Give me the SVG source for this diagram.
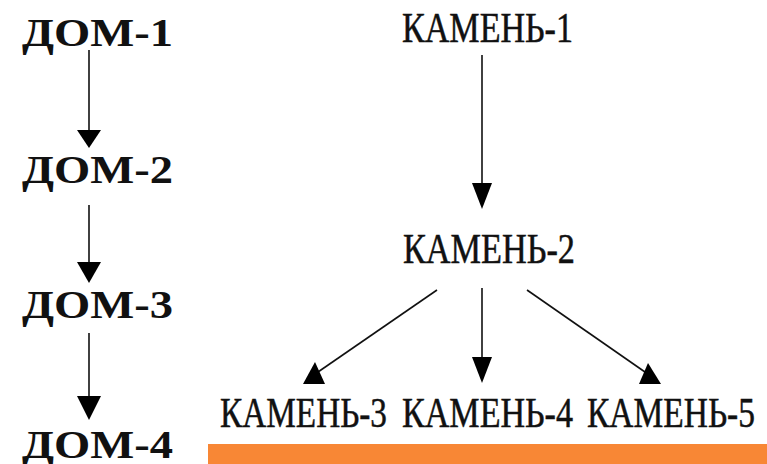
<svg xmlns="http://www.w3.org/2000/svg" width="767" height="464" viewBox="0 0 767 464">
<style>
.dom{font-family:"Liberation Serif","Times New Roman",serif;font-size:40px;font-weight:bold;fill:#111}
.kam{font-family:"Liberation Serif","Times New Roman",serif;font-size:42px;fill:#111;stroke:#111;stroke-width:0.5}
.ln{stroke:#111;stroke-width:1.6;fill:none}
.hd{fill:#000}
</style>
<rect width="767" height="464" fill="#fff"/>
<g id="dom1"><text class="dom" x="22" y="46" textLength="151" lengthAdjust="spacingAndGlyphs">ДОМ-1</text></g>
<g id="dom2"><text class="dom" x="22" y="183" textLength="151" lengthAdjust="spacingAndGlyphs">ДОМ-2</text></g>
<g id="dom3"><text class="dom" x="22" y="318" textLength="151" lengthAdjust="spacingAndGlyphs">ДОМ-3</text></g>
<g id="dom4"><text class="dom" x="22" y="458" textLength="151" lengthAdjust="spacingAndGlyphs">ДОМ-4</text></g>
<g id="kamen1"><text class="kam" x="402" y="42" textLength="171" lengthAdjust="spacingAndGlyphs">КАМЕНЬ-1</text></g>
<g id="kamen2"><text class="kam" x="403" y="263" textLength="172" lengthAdjust="spacingAndGlyphs">КАМЕНЬ-2</text></g>
<g id="kamen3"><text class="kam" x="220" y="427" textLength="167" lengthAdjust="spacingAndGlyphs">КАМЕНЬ-3</text></g>
<g id="kamen4"><text class="kam" x="402" y="427" textLength="171" lengthAdjust="spacingAndGlyphs">КАМЕНЬ-4</text></g>
<g id="kamen5"><text class="kam" x="587" y="427" textLength="168" lengthAdjust="spacingAndGlyphs">КАМЕНЬ-5</text></g>
<g id="connectors">
<line class="ln" x1="89" y1="50" x2="89" y2="134"/>
<polygon class="hd" points="77,130 101,130 89,148"/>
<line class="ln" x1="89" y1="205" x2="89" y2="266"/>
<polygon class="hd" points="77,262 101,262 89,283"/>
<line class="ln" x1="89" y1="333" x2="89" y2="400"/>
<polygon class="hd" points="77,396 101,396 89,420"/>
<line class="ln" x1="482" y1="55" x2="482" y2="186"/>
<polygon class="hd" points="472,183 492,183 482,209"/>
<line class="ln" x1="437" y1="290" x2="318" y2="372"/>
<polygon class="hd" points="303,384 325,384 315,362"/>
<line class="ln" x1="482" y1="288" x2="482" y2="360"/>
<polygon class="hd" points="472,357 492,357 482,383"/>
<line class="ln" x1="527" y1="290" x2="645" y2="372"/>
<polygon class="hd" points="639,384 661,384 648,363"/>
</g>
<rect x="208" y="444" width="559" height="20" fill="#F88735"/>
</svg>
